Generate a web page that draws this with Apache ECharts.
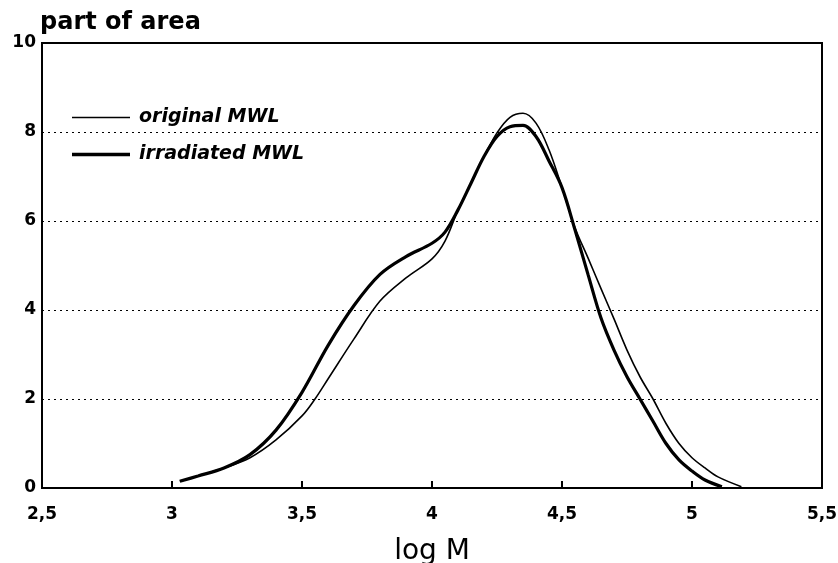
<!DOCTYPE html>
<html>
<head>
<meta charset="utf-8">
<script src="https://cdn.jsdelivr.net/npm/echarts@6/dist/echarts.min.js"></script>
<style>
  html, body { margin: 0; padding: 0; background: #fff; }
  #chart { width: 838px; height: 563px; }
</style>
</head>
<body>
<div id="chart"></div>
<script>
var seriesNames = ['original MWL', 'irradiated MWL'];

// [log M, part of area]
var originalMWL = [
    [3.03, 0.15], [3.1, 0.27], [3.2, 0.45], [3.3, 0.68], [3.4, 1.08],
    [3.5, 1.62], [3.55, 2.0], [3.6, 2.45], [3.7, 3.35], [3.8, 4.2],
    [3.9, 4.72], [4.0, 5.15], [4.05, 5.55], [4.1, 6.25], [4.15, 6.85],
    [4.2, 7.45], [4.25, 7.98], [4.3, 8.33], [4.35, 8.42], [4.4, 8.2],
    [4.45, 7.6], [4.5, 6.75], [4.55, 5.85], [4.6, 5.17], [4.65, 4.48],
    [4.7, 3.8], [4.75, 3.1], [4.8, 2.5], [4.85, 2.0], [4.9, 1.45],
    [4.95, 1.0], [5.0, 0.68], [5.05, 0.45], [5.1, 0.25], [5.19, 0.03]
];

var irradiatedMWL = [
    [3.03, 0.15], [3.1, 0.27], [3.2, 0.45], [3.3, 0.75], [3.4, 1.3],
    [3.5, 2.15], [3.6, 3.2], [3.7, 4.1], [3.8, 4.8], [3.9, 5.2],
    [4.0, 5.5], [4.05, 5.75], [4.1, 6.25], [4.15, 6.85], [4.2, 7.45],
    [4.25, 7.9], [4.3, 8.12], [4.35, 8.15], [4.4, 7.9], [4.45, 7.35],
    [4.5, 6.75], [4.55, 5.8], [4.6, 4.8], [4.65, 3.82], [4.7, 3.1],
    [4.75, 2.5], [4.8, 2.0], [4.85, 1.5], [4.9, 1.0], [4.95, 0.63],
    [5.0, 0.38], [5.05, 0.18], [5.115, 0.03]
];

var chart = echarts.init(document.getElementById('chart'));

function comma(v) {
    return String(v).replace('.', ',');
}

var legendText = {
    color: '#000',
    fontFamily: 'DejaVu Sans',
    fontWeight: 'bold',
    fontStyle: 'italic',
    fontSize: 19,
    padding: [0, 0, 0, 4]
};

var option = {
    backgroundColor: '#fff',
    animation: false,
    grid: {
        left: 42,
        right: 16,
        top: 43,
        bottom: 75,
        outerBoundsMode: 'none',
        containLabel: false,
        show: true,
        borderColor: '#000',
        borderWidth: 2
    },
    legend: [
        {
            left: 67,
            top: 103,
            icon: 'rect',
            itemWidth: 58,
            itemHeight: 1.6,
            itemStyle: { color: '#000' },
            data: [seriesNames[0]],
            textStyle: legendText
        },
        {
            left: 67,
            top: 140,
            icon: 'rect',
            itemWidth: 58,
            itemHeight: 3.4,
            itemStyle: { color: '#000' },
            data: [seriesNames[1]],
            textStyle: legendText
        }
    ],
    xAxis: {
        type: 'value',
        min: 2.5,
        max: 5.5,
        interval: 0.5,
        name: 'log M',
        nameLocation: 'middle',
        nameGap: 50,
        nameTextStyle: {
            color: '#000',
            fontFamily: 'DejaVu Sans',
            fontSize: 28
        },
        axisLine: { show: true, lineStyle: { color: '#000', width: 2 } },
        axisTick: { show: true, inside: true, length: 7, lineStyle: { color: '#000', width: 2 } },
        axisLabel: {
            color: '#000',
            fontFamily: 'DejaVu Sans',
            fontWeight: 'bold',
            fontSize: 17,
            margin: 18,
            formatter: comma
        },
        splitLine: { show: false }
    },
    yAxis: {
        type: 'value',
        min: 0,
        max: 10,
        interval: 2,
        name: 'part of area',
        nameLocation: 'end',
        nameGap: 5,
        nameTextStyle: {
            color: '#000',
            fontFamily: 'DejaVu Sans',
            fontWeight: 'bold',
            fontSize: 24,
            align: 'left',
            padding: [0, 0, 0, -2]
        },
        axisLine: { show: true, lineStyle: { color: '#000', width: 2 } },
        axisTick: { show: false },
        axisLabel: {
            color: '#000',
            fontFamily: 'DejaVu Sans',
            fontWeight: 'bold',
            fontSize: 17,
            margin: 6
        },
        splitLine: {
            show: true,
            lineStyle: { color: '#000', type: [2, 4], width: 1 }
        }
    },
    series: [
        {
            name: seriesNames[0],
            type: 'line',
            data: originalMWL,
            smooth: 0.35,
            symbol: 'none',
            lineStyle: { color: '#000', width: 1.6 },
            itemStyle: { color: '#000' }
        },
        {
            name: seriesNames[1],
            type: 'line',
            data: irradiatedMWL,
            smooth: 0.35,
            symbol: 'none',
            lineStyle: { color: '#000', width: 3.2 },
            itemStyle: { color: '#000' }
        }
    ]
};

if (option && typeof option === 'object') {
    chart.setOption(option, true);
}
</script>
</body>
</html>
